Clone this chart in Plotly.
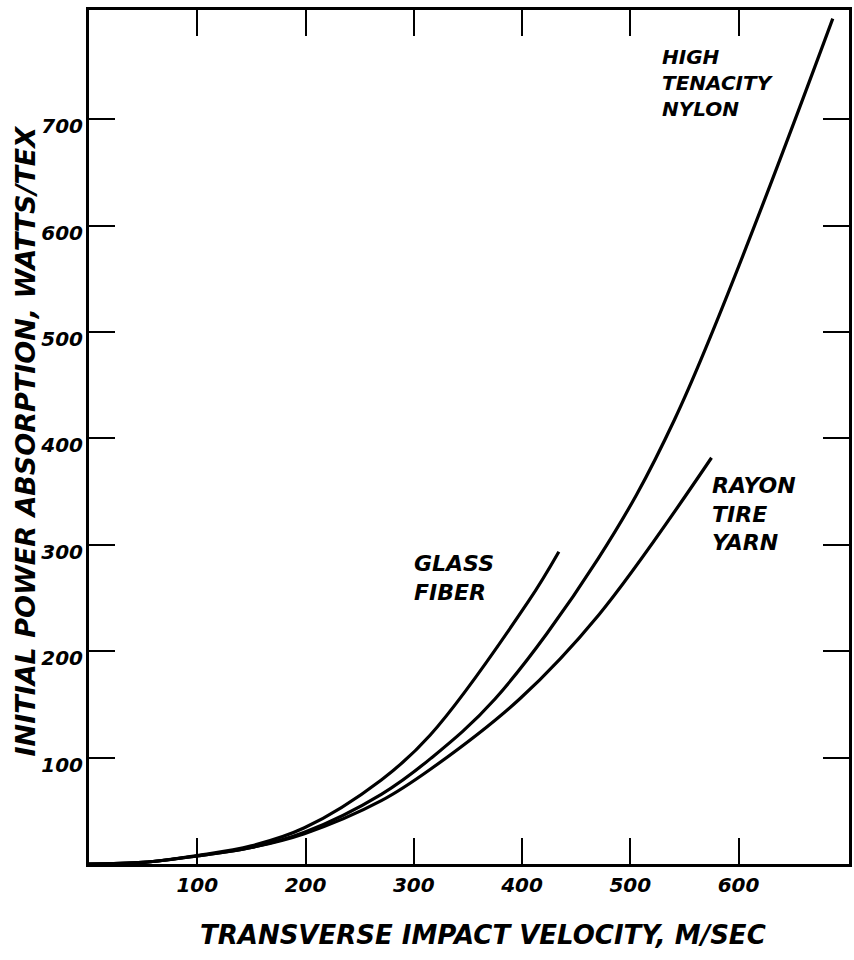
import plotly.graph_objects as go

# ---- data ----
glass_x = [0, 50, 100, 150, 199, 270, 315, 406, 434]
glass_y = [0, 1.5, 8, 17, 34, 79, 121, 247, 293.5]

nylon_x = [0, 50, 100, 150, 199, 270, 316, 375, 470, 541, 687]
nylon_y = [0, 1.5, 7.5, 15.5, 29.8, 65.5, 99.5, 155.1, 286.5, 418, 794.5]

rayon_x = [0, 50, 100, 150, 199, 270, 316, 398, 471, 575]
rayon_y = [0, 1.5, 7.5, 15.5, 28.5, 59.5, 89.5, 155.3, 234.3, 381.8]

x_ticks = [100, 200, 300, 400, 500, 600]
x_tick_labels = ["100", "200", "300", "400", "500", "600"]
y_ticks = [100, 200, 300, 400, 500, 600, 700]
y_tick_labels = ["100", "200", "300", "400", "500", "600", "700"]

x_title = "TRANSVERSE IMPACT VELOCITY, M/SEC"
y_title = "INITIAL POWER ABSORPTION, WATTS/TEX"

FONT = "DejaVu Sans"

fig = go.Figure()
for xs, ys in [(glass_x, glass_y), (nylon_x, nylon_y), (rayon_x, rayon_y)]:
    fig.add_trace(go.Scatter(x=xs, y=ys, mode="lines",
                             line=dict(color="black", width=3.2, shape="spline", smoothing=1.0),
                             showlegend=False, hoverinfo="skip"))

axis_common = dict(showline=True, linecolor="black", linewidth=3, mirror="ticks",
                   ticks="inside", ticklen=26, tickwidth=2.2, tickcolor="black",
                   showgrid=False, zeroline=False,
                   tickfont=dict(family=FONT, size=20, color="black", style="italic",
                                 weight="bold"))

fig.update_xaxes(range=[0, 702], tickvals=x_ticks, ticktext=x_tick_labels,
                 ticklabelstandoff=1, **axis_common)
fig.update_yaxes(range=[0, 802.6], tickvals=y_ticks, ticktext=y_tick_labels,
                 ticklabelshift=7, ticklabelstandoff=-1, **axis_common)

blocks = [
    ("HIGH<br>TENACITY<br>NYLON", 527, 734, 20),
    ("RAYON<br>TIRE<br>YARN", 574, 329, 22),
    ("GLASS<br>FIBER", 298, 269, 22),
]
for txt, lx, ly, fs in blocks:
    fig.add_annotation(x=lx, y=ly, xref="x", yref="y", text=txt, showarrow=False,
                       xanchor="left", yanchor="middle", align="left",
                       font=dict(family=FONT, size=fs, color="black", style="italic",
                                 weight="bold"))

fig.add_annotation(x=0.519, y=-0.083, xref="paper", yref="paper", text=x_title,
                   showarrow=False, xanchor="center", yanchor="middle",
                   font=dict(family=FONT, size=26, color="black", style="italic",
                             weight="bold"))
fig.add_annotation(x=-0.084, y=0.495, xref="paper", yref="paper", text=y_title,
                   showarrow=False, xanchor="center", yanchor="middle", textangle=-90,
                   font=dict(family=FONT, size=27, color="black", style="italic",
                             weight="bold"))

fig.update_layout(width=854, height=960, margin=dict(l=89, r=2, t=10, b=96),
                  paper_bgcolor="white", plot_bgcolor="white")

fig.write_html("out.html")
